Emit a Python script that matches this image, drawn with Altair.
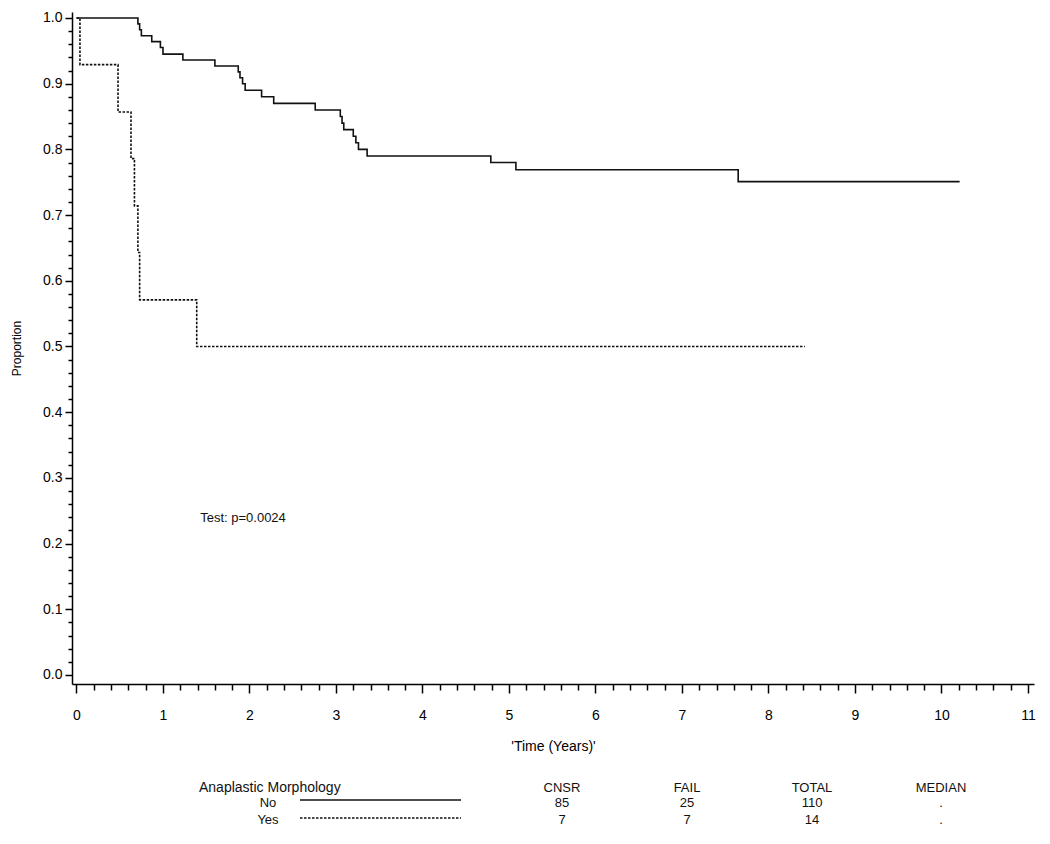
import altair as alt
import pandas as pd

# ---- data ----
no_time = [0, 0.71, 0.73, 0.75, 0.87, 0.97, 1.00, 1.23, 1.60, 1.87, 1.89, 1.92, 1.95,
           2.14, 2.28, 2.76, 3.05, 3.07, 3.09, 3.20, 3.23, 3.26, 3.36, 4.79, 5.08, 7.65, 10.21]
no_surv = [1.0, 0.991, 0.982, 0.973, 0.964, 0.955, 0.945, 0.936, 0.927, 0.918, 0.909, 0.900, 0.890,
           0.880, 0.870, 0.860, 0.850, 0.840, 0.830, 0.820, 0.810, 0.800, 0.790, 0.780, 0.769, 0.751, 0.751]
yes_time = [0, 0.04, 0.48, 0.63, 0.67, 0.71, 0.73, 1.39, 8.42]
yes_surv = [1.0, 0.929, 0.857, 0.786, 0.714, 0.643, 0.571, 0.5, 0.5]

groups = ["No", "Yes"]
cnsr = ["85", "7"]
fail = ["25", "7"]
total = ["110", "14"]
median = [".", "."]
table_headers = ["CNSR", "FAIL", "TOTAL", "MEDIAN"]
legend_title = "Anaplastic Morphology"
test_label = "Test: p=0.0024"
test_pos_time = [1.43]
test_pos_surv = [0.239]

x_ticks = [round(i * 0.2, 1) for i in range(56)]
y_ticks = [round(i * 0.02, 2) for i in range(51)]

# ---- layout ----
FONT = "Liberation Sans"
W, H = 962, 672
X_DOM = [-0.052, 11.07]
Y_DOM = [-0.0137, 1.0091]
INK = "#111111"

xs = alt.Scale(domain=X_DOM, nice=False, zero=False)
ys = alt.Scale(domain=Y_DOM, nice=False, zero=False)

x_major_test = "abs(datum.value - round(datum.value)) < 1e-6"
y_major_test = "abs(datum.value * 10 - round(datum.value * 10)) < 1e-6"

x_axis = alt.Axis(
    values=x_ticks, tickCount=500, title="'Time (Years)'", orient="bottom",
    labelExpr=f"{x_major_test} ? format(datum.value, 'd') : ''",
    tickSize={"condition": {"test": x_major_test, "value": 9}, "value": 6},
    labelPadding=15, labelFontSize=14, titleFontSize=14, titlePadding=17,
    labelFlush=False, labelOverlap=False,
)
y_axis = alt.Axis(
    values=y_ticks, tickCount=500, title="Proportion", orient="left",
    labelExpr=f"{y_major_test} ? format(datum.value, '.1f') : ''",
    tickSize={"condition": {"test": y_major_test, "value": 7}, "value": 4},
    labelPadding=3, labelFontSize=14, titleFontSize=12, titlePadding=19,
    labelFlush=False, labelOverlap=False,
)

df_no = pd.DataFrame({"time": no_time, "surv": no_surv})
df_yes = pd.DataFrame({"time": yes_time, "surv": yes_surv})

line_no = alt.Chart(df_no).mark_line(interpolate="step-after", color=INK, strokeWidth=1.6).encode(
    x=alt.X("time:Q", scale=xs, axis=x_axis),
    y=alt.Y("surv:Q", scale=ys, axis=y_axis),
)
line_yes = alt.Chart(df_yes).mark_line(interpolate="step-after", color=INK, strokeWidth=1.6,
                                       strokeDash=[2.5, 1.5]).encode(
    x=alt.X("time:Q", scale=xs),
    y=alt.Y("surv:Q", scale=ys),
)

df_test = pd.DataFrame({"time": test_pos_time, "surv": test_pos_surv, "t": [test_label]})
test_text = alt.Chart(df_test).mark_text(align="left", baseline="middle", font=FONT,
                                         fontSize=13, color=INK).encode(
    x=alt.X("time:Q", scale=xs), y=alt.Y("surv:Q", scale=ys), text="t:N")

# ---- summary table under the plot (pixel layout relative to plot origin) ----
one = pd.DataFrame({"k": [0]})
layers = [line_no, line_yes, test_text]

def txt(s, x, y, align="center", size=13):
    return alt.Chart(one).mark_text(align=align, baseline="middle", font=FONT, fontSize=size,
                                    color=INK, text=s).encode(x=alt.value(x), y=alt.value(y))

HEAD_Y = 776
ROW_Y = [791, 808]
LINE_Y = [788, 806]
COL_X = [490, 615, 740, 869]

layers.append(txt(legend_title, 127, HEAD_Y, "left", 14))
for h, cx in zip(table_headers, COL_X):
    layers.append(txt(h, cx, HEAD_Y))
for i, g in enumerate(groups):
    layers.append(txt(g, 196, ROW_Y[i]))
    for vals, cx in zip([cnsr, fail, total, median], COL_X):
        layers.append(txt(vals[i], cx, ROW_Y[i]))

leg_solid = alt.Chart(one).mark_rule(color=INK, strokeWidth=1.6).encode(
    x=alt.value(228), x2=alt.value(389), y=alt.value(LINE_Y[0]))
leg_dash = alt.Chart(one).mark_rule(color=INK, strokeWidth=1.6, strokeDash=[2.5, 1.5]).encode(
    x=alt.value(228), x2=alt.value(389), y=alt.value(LINE_Y[1]))
layers += [leg_solid, leg_dash]

chart = alt.layer(*layers).properties(
    width=W, height=H,
    autosize=alt.AutoSizeParams(type="none"),
    padding={"left": 64, "top": 4, "right": 8, "bottom": 144},
    background="white",
).configure_view(stroke=None).configure_axis(
    domainColor="#000", tickColor="#000", labelColor="#000", titleColor="#000",
    labelFont=FONT, titleFont=FONT, grid=False, titleFontWeight="normal",
    domainWidth=1.5, tickWidth=1.5,
)

chart.save("out.html", embed_options={"renderer": "svg", "actions": False})
